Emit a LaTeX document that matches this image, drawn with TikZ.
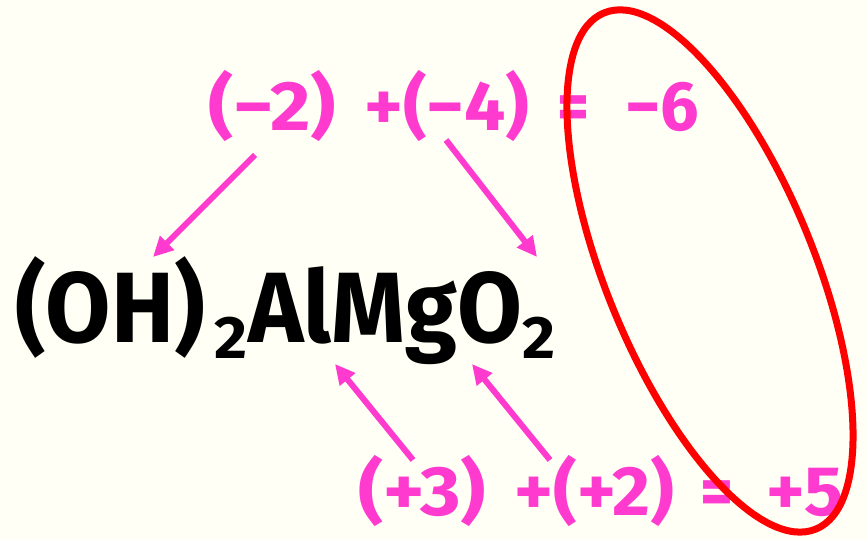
\documentclass[tikz,border=0pt]{standalone}
\usepackage{fontspec}
\usepackage{graphicx}
\setmainfont{Fira Sans}
\usetikzlibrary{arrows.meta}
\definecolor{bgcream}{RGB}{255,255,245}
\definecolor{pinkish}{RGB}{255,58,207}
\definecolor{ringred}{RGB}{255,0,0}
\newcommand{\fitw}[2]{\resizebox{#1}{\height}{#2}}
\begin{document}
\begin{tikzpicture}[x=1pt,y=-1pt,
  eq/.style={font=\fontsize{70}{70}\selectfont\bfseries, text=pinkish, inner sep=0pt, anchor=base west},
  formula/.style={font=\fontsize{100}{100}\selectfont\bfseries, text=black, inner sep=0pt, anchor=base west},
  subs/.style={font=\fontsize{60}{60}\selectfont\bfseries, text=black, inner sep=0pt, anchor=base west},
  pointer/.style={draw=pinkish, line width=6pt, -{Triangle[length=20pt,width=19pt]}}]
\fill[bgcream] (0,0) rectangle (867,540);
\useasboundingbox (0,0) rectangle (867,540);
% top equation
\node[eq] (t1) at (208,131) {\fitw{128pt}{(−2)}};
\node[eq] (t2) at (364,131) {\fitw{165pt}{+(−4)}};
\node[eq] (t3) at (557,131) {\fitw{32pt}{=}};
\node[eq] (t4) at (625,131) {\fitw{74pt}{−6}};
% formula
\node[formula] (f1) at (15,342) {\fitw{190pt}{(OH)}};
\node[subs] (f2) at (214,358) {\fitw{33pt}{2}};
\node[formula] (f3) at (248,342) {\fitw{274pt}{AlMgO}};
\node[subs] (f4) at (522,358) {\fitw{33pt}{2}};
% bottom equation
\node[eq] (b1) at (358,515) {\fitw{128pt}{(+3)}};
\node[eq] (b2) at (514,515) {\fitw{160pt}{+(+2)}};
\node[eq] (b3) at (700,515) {\fitw{33pt}{=}};
\node[eq] (b4) at (766,515) {\fitw{77pt}{+5}};
% arrow ends
\coordinate (a1s) at (255,155); \coordinate (a1e) at (153,257);
\coordinate (a2s) at (446,140); \coordinate (a2e) at (537,257);
\coordinate (a3s) at (413,460); \coordinate (a3e) at (335,364);
\coordinate (a4s) at (550,460); \coordinate (a4e) at (472,364);
\draw[pointer] (a1s) -- (a1e);
\draw[pointer] (a2s) -- (a2e);
\draw[pointer] (a3s) -- (a3e);
\draw[pointer] (a4s) -- (a4e);
% ring
\coordinate (ringc) at (710,271);
\draw[ringred, line width=7pt, rotate around={-67.7:(ringc)}] (ringc) ellipse [x radius=279pt, y radius=104pt];
\end{tikzpicture}
\end{document}
